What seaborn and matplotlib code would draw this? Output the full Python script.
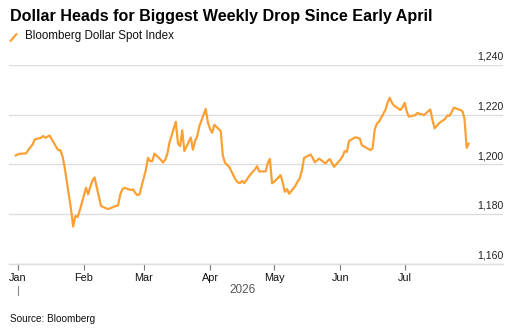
import pandas as pd
import matplotlib.pyplot as plt
import matplotlib.transforms as mtransforms
from matplotlib.lines import Line2D
import seaborn as sns

# Bloomberg Dollar Spot Index, daily closes
dec_2025 = [1203.6]
jan = [1204.0, 1204.3, 1204.5, 1205.8, 1207.0, 1208.0, 1210.1, 1210.8, 1211.5, 1210.8, 1211.2,
       1211.7, 1207.2, 1205.8, 1205.8, 1203.4, 1199.0, 1182.0, 1175.0, 1179.2, 1178.8, 1181.2]
feb = [1190.6, 1188.0, 1191.0, 1193.5, 1194.8, 1183.3, 1182.9, 1182.5, 1182.1, 1182.2,
       1183.3, 1183.5, 1187.8, 1190.0, 1190.6, 1189.7, 1190.0, 1188.6, 1187.7, 1187.9]
mar = [1197.8, 1202.7, 1201.4, 1201.3, 1204.4, 1201.9, 1200.8, 1201.8, 1204.2, 1208.7, 1217.2,
       1208.5, 1207.4, 1213.8, 1205.4, 1210.9, 1206.0, 1209.5, 1211.4, 1215.4, 1222.4, 1217.0]
apr = [1214.3, 1212.8, 1216.0, 1213.5, 1203.5, 1200.7, 1199.8, 1199.0, 1193.8, 1192.8, 1192.5,
       1193.4, 1192.5, 1196.1, 1197.1, 1198.0, 1199.3, 1197.2, 1197.2, 1200.5, 1202.3, 1192.4]
may = [1193.0, 1195.7, 1192.7, 1189.0, 1190.1, 1188.2, 1191.5, 1193.2, 1194.5, 1197.8, 1202.7,
       1204.0, 1202.7, 1200.9, 1201.6, 1202.4, 1200.4, 1201.5, 1202.2, 1200.6, 1199.1]
jun = [1202.0, 1203.3, 1205.4, 1205.1, 1209.5, 1211.0, 1210.7, 1210.5, 1207.8, 1207.3, 1205.8,
       1206.5, 1214.0, 1216.5, 1217.2, 1222.0, 1224.8, 1226.9, 1225.0, 1223.8, 1222.0, 1223.0]
jul = [1224.9, 1221.3, 1219.3, 1219.9, 1220.8, 1220.4, 1220.3, 1219.9, 1222.2, 1218.1, 1214.6,
       1215.5, 1216.6, 1218.4, 1219.8, 1219.6, 1221.2, 1222.9, 1222.0, 1221.5, 1218.5, 1206.7, 1208.5]

y_ticks = [1160, 1180, 1200, 1220, 1240]
month_labels = ['Jan', 'Feb', 'Mar', 'Apr', 'May', 'Jun', 'Jul']

LINE_COLOR = '#FCA033'
GRID_COLOR = '#dddddd'

values = dec_2025 + jan + feb + mar + apr + may + jun + jul
dates = pd.bdate_range('2025-12-31', '2026-07-31')
df = pd.DataFrame({'date': dates, 'index': values})

sns.set_style('white')
plt.rcParams['font.family'] = ['Liberation Sans', 'DejaVu Sans']

fig = plt.figure(figsize=(5.2, 3.32), dpi=100)
ax = fig.add_axes([9 / 520, 68.3 / 332, 494 / 520, 198.4 / 332])

sns.lineplot(data=df, x='date', y='index', ax=ax, color=LINE_COLOR, linewidth=1.6)

ax.set_xlim(pd.Timestamp('2025-12-28'), pd.Timestamp('2026-08-16'))
ax.set_ylim(y_ticks[0], y_ticks[-1])
ax.set_xlabel('')
ax.set_ylabel('')

# y axis: labels at the right, sitting on top of the gridlines
ax.yaxis.tick_right()
ax.set_yticks(y_ticks)
ax.set_yticklabels([f'{v:,}' for v in y_ticks])
ax.tick_params(axis='y', length=0, pad=0, labelsize=7.6, labelcolor='#222222')
offset = mtransforms.ScaledTranslation(0, 2.5 / 72, fig.dpi_scale_trans)
for lab in ax.get_yticklabels():
    lab.set_horizontalalignment('right')
    lab.set_verticalalignment('bottom')
    lab.set_transform(lab.get_transform() + offset)
ax.grid(axis='y', color=GRID_COLOR, linewidth=1)
ax.grid(axis='x', visible=False)

# x axis: month ticks
month_starts = pd.date_range('2026-01-01', periods=len(month_labels), freq='MS')
ax.set_xticks(month_starts)
ax.set_xticklabels(month_labels)
ax.tick_params(axis='x', bottom=True, length=4, width=0.8, color='#777777', pad=3,
               labelsize=7.8, labelcolor='#111111')

for side in ['top', 'left', 'right']:
    ax.spines[side].set_visible(False)
ax.spines['bottom'].set_color(GRID_COLOR)
ax.spines['bottom'].set_linewidth(1)

# year label and separator tick
mid = df['date'].iloc[0] + (df['date'].iloc[-1] - df['date'].iloc[0]) / 2
ax.text(mid, -0.135, '2026', transform=ax.get_xaxis_transform(), ha='center', va='center',
        fontsize=8.5, color='#555555')
ax.plot([month_starts[0], month_starts[0]], [-0.11, -0.16], transform=ax.get_xaxis_transform(),
        color='#888888', linewidth=0.8, clip_on=False)

# title, legend and source
fig.text(10 / 520, 1 - 16 / 332, 'Dollar Heads for Biggest Weekly Drop Since Early April',
         fontsize=11.6, fontweight='bold', ha='left', va='center', color='#000000')
fig.add_artist(Line2D([10.5 / 520, 16.5 / 520], [1 - 41 / 332, 1 - 34 / 332],
                      transform=fig.transFigure, color=LINE_COLOR, linewidth=1.6))
fig.text(25 / 520, 1 - 36.5 / 332, 'Bloomberg Dollar Spot Index', fontsize=8.4,
         ha='left', va='center', color='#111111')
fig.text(9.5 / 520, 1 - 319 / 332, 'Source: Bloomberg', fontsize=7.2,
         ha='left', va='center', color='#111111')

fig.savefig('out.png', dpi=100)
